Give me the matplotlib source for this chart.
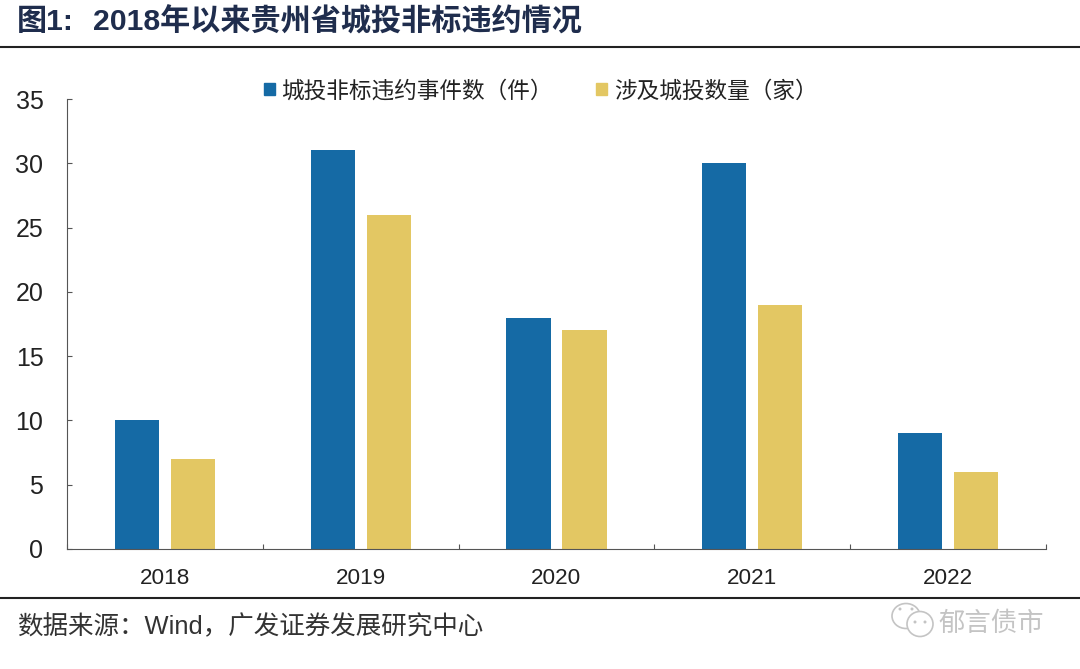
import matplotlib
matplotlib.use("Agg")
import matplotlib.pyplot as plt
import numpy as np
from matplotlib.lines import Line2D
from matplotlib.patches import Ellipse, Rectangle

plt.rcParams['font.family'] = ['Liberation Sans', 'Noto Sans CJK SC', 'DejaVu Sans']

years = ['2018', '2019', '2020', '2021', '2022']
events = [10, 31, 18, 30, 9]
companies = [7, 26, 17, 19, 6]
y_ticks = [0, 5, 10, 15, 20, 25, 30, 35]

W, H = 1080, 669
fig = plt.figure(figsize=(W / 100, H / 100), dpi=100)


# перевод пикселей картинки в координаты фигуры
def fx(px):
    return px / W


def fy(py):
    return 1 - py / H


ax = fig.add_axes([fx(67), fy(549), (1046 - 67) / W, (549 - 99) / H])
x = np.arange(len(years))
ax.bar(x - 0.143, events, width=0.225, color='#156AA5', label='城投非标违约事件数（件）')
ax.bar(x + 0.143, companies, width=0.225, color='#E3C763', label='涉及城投数量（家）')

ax.set_xlim(-0.5, 4.5)
ax.set_ylim(0, 35)
ax.set_yticks(y_ticks)
ax.set_xticks(np.arange(-0.5, 5, 1))
ax.set_xticklabels([])
ax.set_xticks(x, years, minor=True)
ax.tick_params(axis='x', which='minor', length=0, labelsize=16.2, pad=14, labelcolor='#222222')
ax.tick_params(axis='x', which='major', length=3.6, direction='in', color='#555555')
ax.tick_params(axis='y', length=3.6, direction='in', labelsize=18, pad=17, color='#555555', labelcolor='#222222')
ax.spines['top'].set_visible(False)
ax.spines['right'].set_visible(False)
ax.spines['left'].set_color('#555555')
ax.spines['bottom'].set_color('#555555')

# заголовок, подпись и разделители
fig.text(fx(17), fy(22), '图1:', fontsize=21.7, fontweight='bold', color='#1F2D4D', va='center', ha='left')
fig.text(fx(93), fy(22), '2018年以来贵州省城投非标违约情况', fontsize=21.7, fontweight='bold',
         color='#1F2D4D', va='center', ha='left')
fig.add_artist(Line2D([0, 1], [fy(47)] * 2, color='#222222', lw=1.5))
fig.add_artist(Line2D([0, 1], [fy(598)] * 2, color='#222222', lw=1.5))
fig.text(fx(17), fy(627), '数据来源：Wind，广发证券发展研究中心', fontsize=18.4, color='#333333', va='center', ha='left')

# водяной знак
fig.text(fx(938), fy(624), '郁言债市', fontsize=19, color='#C4C4C4', va='center', ha='left')
for cx, cy, w, h in [(906, 616, 28, 25), (920, 624, 26, 25)]:
    fig.add_artist(Ellipse((fx(cx), fy(cy)), w / W, h / H, transform=fig.transFigure,
                           facecolor='white', edgecolor='#C4C4C4', lw=1.2))
for cx, cy in [(900, 609), (912, 609), (915, 622), (925, 622)]:
    fig.add_artist(Ellipse((fx(cx), fy(cy)), 3 / W, 3 / H, transform=fig.transFigure,
                           facecolor='#C4C4C4', edgecolor='none'))

# легенда
fig.add_artist(Rectangle((fx(264), fy(95)), 11 / W, 12 / H, color='#156AA5', transform=fig.transFigure))
fig.text(fx(281), fy(91), '城投非标违约事件数（件）', fontsize=16.3, color='#222222', va='center', ha='left')
fig.add_artist(Rectangle((fx(596), fy(95)), 11 / W, 12 / H, color='#E3C763', transform=fig.transFigure))
fig.text(fx(614), fy(91), '涉及城投数量（家）', fontsize=16.3, color='#222222', va='center', ha='left')

fig.savefig('out.png', dpi=100)
